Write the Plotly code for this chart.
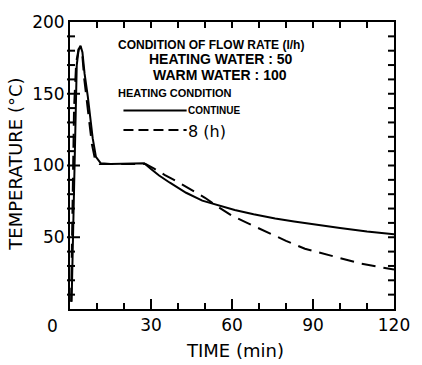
import plotly.graph_objects as go

# --- data ---
time_continue = [0.6, 1.2, 1.8, 2.5, 3.2, 3.9, 4.6, 5.4, 6.6, 7.5, 8.4, 9.6, 11.4, 15, 20, 25, 27.5,
                 30, 33, 37, 43, 49, 55, 61, 68, 76, 83, 90, 100, 110, 120]
temp_continue = [5, 60, 130, 170, 181, 183.5, 179, 164, 148, 132, 119, 106, 101.5, 101, 101, 101, 101.5,
                 97.5, 93, 88, 81, 75.5, 72, 69, 66, 63, 61, 59, 56.5, 54, 52]

time_8h = [0.4, 0.9, 1.5, 2.3, 3.2, 3.9, 4.6, 5.3, 6.2, 7.2, 8.1, 9.3, 11, 15, 20, 25, 28,
           31, 35, 40, 45, 50, 55, 60, 65, 70, 75, 80, 87, 95, 102, 108, 114, 120]
temp_8h = [5, 70, 140, 172, 181, 182, 176, 160, 145, 128, 115, 104, 101, 101, 101, 101, 101,
           98, 93.5, 88.5, 83, 77.5, 71, 65, 60.5, 56, 51.5, 47.5, 42, 38, 34, 31.5, 29.5, 27.5]

x_range = [0, 120]
y_range = [0, 200]
x_ticks = [30, 60, 90, 120]
y_ticks = [50, 100, 150, 200]
minor_step = 10

legend_title = "CONDITION OF FLOW RATE (l/h)"
legend_heating = "HEATING WATER : 50"
legend_warm = "WARM WATER : 100"
legend_cond = "HEATING CONDITION"
series_names = ["CONTINUE", "8 (h)"]

fig = go.Figure()
fig.add_trace(go.Scatter(x=time_continue, y=temp_continue, mode="lines",
                         line=dict(color="black", width=2), name=series_names[0]))
fig.add_trace(go.Scatter(x=time_8h, y=temp_8h, mode="lines",
                         line=dict(color="black", width=2, dash="14px,8px"), name=series_names[1]))

tickfont = dict(family="DejaVu Sans", size=17, color="black")
titlefont = dict(family="DejaVu Sans", size=18, color="black")
bold = "Liberation Sans, Arial, sans-serif"

fig.update_layout(
    width=422, height=365,
    margin=dict(l=70, r=19, t=14, b=56),
    paper_bgcolor="white", plot_bgcolor="white",
    showlegend=False,
    xaxis=dict(range=x_range, tickmode="array", tickvals=x_ticks, ticks="",
               showline=True, linecolor="black", linewidth=2, mirror=True,
               tickfont=tickfont, showgrid=False, zeroline=False),
    yaxis=dict(range=y_range, tickmode="array", tickvals=y_ticks, ticks="",
               showline=True, linecolor="black", linewidth=2, mirror=True,
               tickfont=tickfont, showgrid=False, zeroline=False),
)

# tick marks drawn as pixel-sized shapes anchored at the axis tick positions
tick_line = dict(color="black", width=2)
x_all = list(range(x_range[0] + minor_step, x_range[1], minor_step))
y_all = list(range(y_range[0] + minor_step, y_range[1], minor_step))
for xv in x_all:
    length = 10 if xv in x_ticks else 6
    fig.add_shape(type="line", xref="x", yref="paper", x0=xv, x1=xv,
                  ysizemode="pixel", yanchor=0, y0=0, y1=length, line=tick_line)
    fig.add_shape(type="line", xref="x", yref="paper", x0=xv, x1=xv,
                  ysizemode="pixel", yanchor=1, y0=0, y1=-6, line=tick_line)
for yv in y_all:
    length = 10 if yv in y_ticks else 5
    fig.add_shape(type="line", xref="paper", yref="y", y0=yv, y1=yv,
                  xsizemode="pixel", xanchor=0, x0=-3, x1=length, line=tick_line)
    fig.add_shape(type="line", xref="paper", yref="y", y0=yv, y1=yv,
                  xsizemode="pixel", xanchor=1, x0=0, x1=-6, line=tick_line)

ann = []
ann.append(dict(text="0", x=-0.054, y=-0.058, xref="paper", yref="paper",
                xanchor="center", yanchor="middle", showarrow=False, font=tickfont))
ann.append(dict(text="TIME (min)", x=0.51, y=-0.145, xref="paper", yref="paper",
                xanchor="center", yanchor="middle", showarrow=False, font=titlefont))
ann.append(dict(text="TEMPERATURE (°C)", x=-0.171, y=0.505, xref="paper", yref="paper",
                xanchor="center", yanchor="middle", showarrow=False, textangle=-90, font=titlefont))
ann.append(dict(text="<b>" + legend_title + "</b>", x=0.141, y=0.919, xref="paper", yref="paper",
                xanchor="left", yanchor="middle", showarrow=False,
                font=dict(family=bold, size=12, color="black")))
ann.append(dict(text="<b>" + legend_heating + "</b>", x=0.237, y=0.872, xref="paper", yref="paper",
                xanchor="left", yanchor="middle", showarrow=False,
                font=dict(family=bold, size=14, color="black")))
ann.append(dict(text="<b>" + legend_warm + "</b>", x=0.249, y=0.815, xref="paper", yref="paper",
                xanchor="left", yanchor="middle", showarrow=False,
                font=dict(family=bold, size=14, color="black")))
ann.append(dict(text="<b>" + legend_cond + "</b>", x=0.141, y=0.7525, xref="paper", yref="paper",
                xanchor="left", yanchor="middle", showarrow=False,
                font=dict(family=bold, size=11, color="black")))
ann.append(dict(text="<b>" + series_names[0] + "</b>", x=0.357, y=0.6915, xref="paper", yref="paper",
                xanchor="left", yanchor="middle", showarrow=False,
                font=dict(family=bold, size=10, color="black")))
ann.append(dict(text=series_names[1], x=0.357, y=0.617, xref="paper", yref="paper",
                xanchor="left", yanchor="middle", showarrow=False,
                font=dict(family="DejaVu Sans", size=16, color="black")))
fig.update_layout(annotations=ann)

fig.add_shape(type="line", xref="paper", yref="paper", x0=0.165, x1=0.36, y0=0.6915, y1=0.6915,
              line=dict(color="black", width=2))
fig.add_shape(type="line", xref="paper", yref="paper", x0=0.165, x1=0.36, y0=0.6237, y1=0.6237,
              line=dict(color="black", width=2, dash="10px,5px"))

fig.write_html("out.html")
